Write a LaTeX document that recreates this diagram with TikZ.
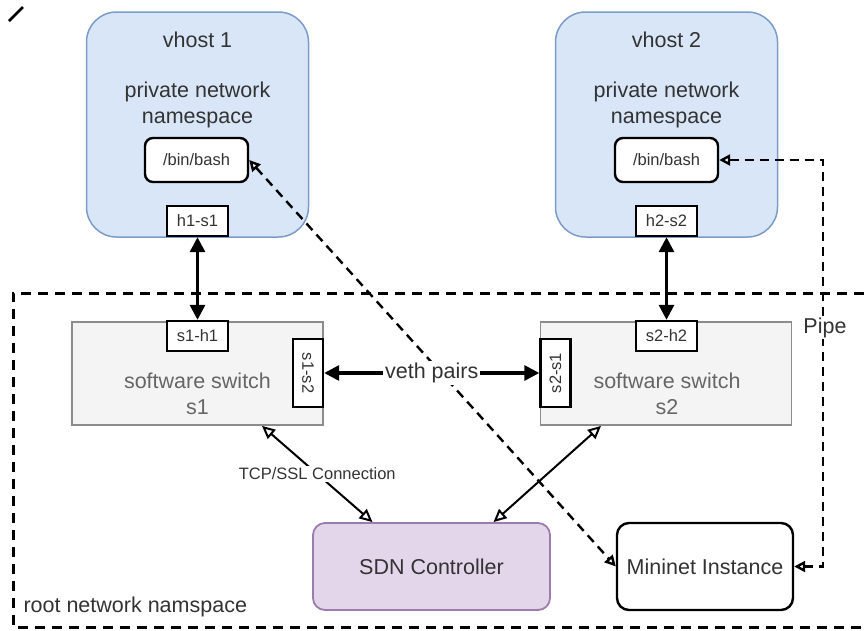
\documentclass[tikz,border=0pt]{standalone}
\usepackage{fontspec}
\setmainfont{Liberation Sans}
\usetikzlibrary{arrows.meta,calc}

\definecolor{hostfill}{HTML}{D8E6F8}
\definecolor{hostdraw}{HTML}{7C9CC8}
\definecolor{swfill}{HTML}{F4F4F4}
\definecolor{swdraw}{HTML}{8C8C8C}
\definecolor{ctlfill}{HTML}{E3D5EA}
\definecolor{ctldraw}{HTML}{9C7BAE}
\definecolor{txt}{HTML}{333333}
\definecolor{swtxt}{HTML}{666666}

\tikzset{
  big/.style={font=\fontsize{21.5}{26}\selectfont, text=txt},
  small/.style={font=\fontsize{16.5}{19}\selectfont, text=txt},
  hostbox/.style={draw=hostdraw, fill=hostfill, line width=1.5pt, rounded corners=30pt,
    minimum width=222pt, minimum height=225pt, inner sep=0pt},
  bashbox/.style={draw=black, fill=white, line width=2.4pt, rounded corners=8pt,
    minimum width=103pt, minimum height=44pt, inner sep=0pt, small},
  portbox/.style={draw=black, fill=white, line width=2.4pt,
    minimum width=61pt, minimum height=30pt, inner sep=0pt, small},
  vportbox/.style={draw=black, fill=white, line width=2.4pt,
    minimum width=68pt, minimum height=30pt, inner sep=0pt, small},
  switchbox/.style={draw=swdraw, fill=swfill, line width=1.8pt,
    minimum width=251pt, minimum height=103pt, inner sep=0pt},
  ctlbox/.style={draw=ctldraw, fill=ctlfill, line width=1.8pt, rounded corners=12pt,
    minimum width=237pt, minimum height=87pt, inner sep=0pt, big},
  minibox/.style={draw=black, fill=white, line width=2.4pt, rounded corners=12pt,
    minimum width=176pt, minimum height=87pt, inner sep=0pt, big},
  linkarrow/.style={line width=3.2pt,
    {Triangle[length=15pt,width=15pt]}-{Triangle[length=15pt,width=15pt]}},
  ctlarrow/.style={line width=2pt,
    {Triangle[open,length=13pt,width=12pt,fill=white]}-{Triangle[open,length=13pt,width=12pt,fill=white]}},
  pipearrow/.style={line width=2.4pt, dash pattern=on 9pt off 6pt,
    {Triangle[open,length=11pt,width=11pt,fill=white]}-{Triangle[open,length=11pt,width=11pt,fill=white]}},
  rootline/.style={line width=3pt, dash pattern=on 10pt off 7pt},
}

\begin{document}
\begin{tikzpicture}[x=1pt,y=-1pt]
\useasboundingbox (0,0) rectangle (864,630);

% root namespace border (open on the right edge)
\draw[rootline] (864,293) -- (13,293) -- (13,627) -- (864,627);
\node[big, anchor=west] (rootlbl) at (20,607) {root network namspace};

% stray stroke in the top-left corner
\draw[line width=2.6pt] (9,21) -- (23,7);

% virtual hosts
\node[hostbox] (vh1) at (197.5,124.5) {};
\node[hostbox] (vh2) at (666.5,124.5) {};
\node[big] (vh1t) at (197.5,40) {vhost 1};
\node[big] (vh2t) at (666.5,40) {vhost 2};
\node[big, align=center] (vh1ns) at (197.5,105) {private network\\namespace};
\node[big, align=center] (vh2ns) at (666.5,105) {private network\\namespace};
\node[bashbox] (bash1) at (196.5,160) {/bin/bash};
\node[bashbox] (bash2) at (666.5,160) {/bin/bash};
\node[portbox] (h1s1) at (197.5,221) {h1-s1};
\node[portbox] (h2s2) at (666.5,221) {h2-s2};

% software switches
\node[switchbox] (sw1) at (197.5,373.5) {};
\node[switchbox] (sw2) at (666,373.5) {};
\node[big, text=swtxt, align=center] (sw1t) at (197.5,394) {software switch\\s1};
\node[big, text=swtxt, align=center] (sw2t) at (667,394) {software switch\\s2};
\node[portbox] (s1h1) at (197.5,336) {s1-h1};
\node[portbox] (s2h2) at (666.5,336) {s2-h2};
\node[vportbox, rotate=-90] (s1s2) at (308,373) {s1-s2};
\node[vportbox, rotate=90] (s2s1) at (555.5,373) {s2-s1};

% controller and mininet
\node[ctlbox] (sdn) at (431.5,566.5) {SDN Controller};
\node[minibox] (mn) at (705,566.5) {Mininet Instance};

% pipes from mininet to the host shells
\coordinate (pipex) at (823,0);
\draw[pipearrow] (bash1.east) -- (mn.west);
\draw[pipearrow] (bash2.east) -- (bash2.east -| pipex) -- (mn.east -| pipex) -- (mn.east);
\node[big, fill=white, inner sep=1pt] (pipelbl) at (825,328) {Pipe};

% host <-> switch links
\draw[linkarrow] (h1s1.south) -- (s1h1.north);
\draw[linkarrow] (h2s2.south) -- (s2h2.north);

% veth pair between the switches (both ports are rotated: their "north" faces the gap)
\draw[linkarrow] (s1s2.north) -- node[big, fill=white, inner sep=2pt] (veth) {veth pairs} (s2s1.north);

% controller connections
\draw[ctlarrow] ($(sw1.south)+(64.5,0)$) -- node[small, fill=white, inner sep=2pt] (tcp) {TCP/SSL Connection} ($(sdn.north)+(-59,0)$);
\draw[ctlarrow] ($(sw2.south)+(-65,0)$) -- ($(sdn.north)+(62,0)$);
\end{tikzpicture}
\end{document}
